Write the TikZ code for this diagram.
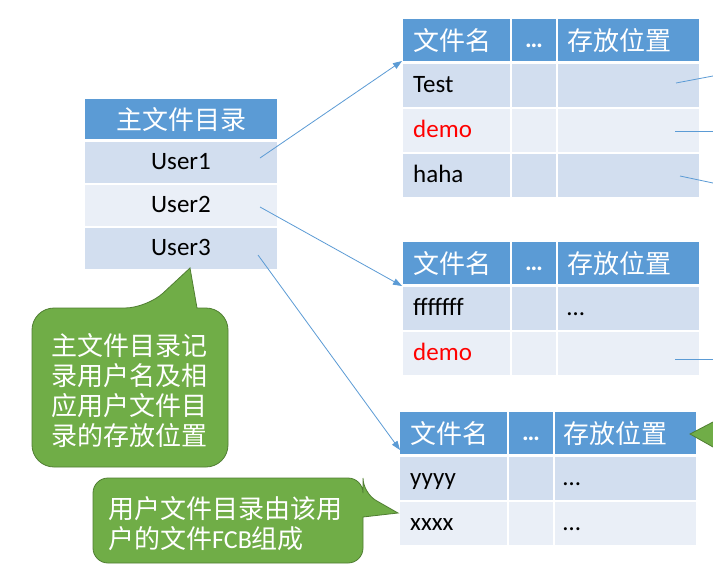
\documentclass[tikz,border=0pt]{standalone}
\usepackage{fontspec}
\setmainfont{Carlito}
\newfontfamily\cjk{Noto Sans CJK SC}
\usetikzlibrary{arrows.meta}

\definecolor{hdr}{HTML}{5B9BD5}
\definecolor{bandA}{HTML}{D2DEEF}
\definecolor{bandB}{HTML}{EAEFF7}
\definecolor{note}{HTML}{70AD47}
\definecolor{noteedge}{HTML}{507E32}
\definecolor{redtxt}{HTML}{FF0000}

% one row of a user file directory: name, left x, top y, fill style, height
\newcommand\fcbcells[5]{%
  \node[#4, minimum width=107pt, minimum height=#5pt] (#1a) at (#2,#3) {};
  \node[#4, minimum width=44pt,  minimum height=#5pt] (#1b) at (#2+109,#3) {};
  \node[#4, minimum width=141pt, minimum height=#5pt] (#1c) at (#2+155,#3) {};
}

\begin{document}
\begin{tikzpicture}[x=1pt,y=-1pt,
  cell/.style={rectangle, inner sep=0pt, outer sep=0pt, anchor=north west},
  hd/.style={cell, fill=hdr},
  ba/.style={cell, fill=bandA},
  bb/.style={cell, fill=bandB},
  lat/.style={font=\fontsize{25}{30}\selectfont, inner sep=0pt, text height=14pt, text depth=0pt},
  zh/.style={font=\fontsize{26}{30}\selectfont\cjk, inner sep=0pt, text height=20pt, text depth=0pt},
  notetext/.style={font=\fontsize{26}{30}\selectfont\cjk, text=white, inner sep=0pt, align=left},
  link/.style={draw=hdr, line width=0.8pt},
  arr/.style={link, -{Triangle[length=9pt,width=6.5pt]}},
  notefill/.style={fill=note, draw=noteedge, line width=0.8pt},
]
\useasboundingbox (0,0) rectangle (713,579);
\fill[white] (0,0) rectangle (713,579);

% master file directory
\node[hd, zh, text=white, minimum width=192pt, minimum height=40pt] (mh) at (85,99) {主文件目录};
\node[ba, lat, minimum width=192pt, minimum height=41pt] (u1) at (85,142) {User1};
\node[bb, lat, minimum width=192pt, minimum height=41pt] (u2) at (85,185) {User2};
\node[ba, lat, minimum width=192pt, minimum height=41pt] (u3) at (85,228) {User3};

% user file directory of User1
\fcbcells{t1h}{403}{19}{hd}{42}
\fcbcells{t1r1}{403}{64}{ba}{43}
\fcbcells{t1r2}{403}{109}{bb}{43}
\fcbcells{t1r3}{403}{154}{ba}{43}
\node[zh, text=white, anchor=west] (t1hn) at ([xshift=10pt]t1ha.west) {文件名};
\node[lat, text=white] (t1hd) at (t1hb) {\bfseries …};
\node[zh, text=white, anchor=west] (t1hp) at ([xshift=9pt]t1hc.west) {存放位置};
\node[lat, anchor=west] (t1n1) at ([xshift=10pt]t1r1a.west) {Test};
\node[lat, anchor=west, text=redtxt] (t1n2) at ([xshift=10pt]t1r2a.west) {demo};
\node[lat, anchor=west] (t1n3) at ([xshift=10pt]t1r3a.west) {haha};

% user file directory of User2
\fcbcells{t2h}{403}{242}{hd}{42}
\fcbcells{t2r1}{403}{287}{ba}{43}
\fcbcells{t2r2}{403}{332}{bb}{43}
\node[zh, text=white, anchor=west] (t2hn) at ([xshift=10pt]t2ha.west) {文件名};
\node[lat, text=white] (t2hd) at (t2hb) {\bfseries …};
\node[zh, text=white, anchor=west] (t2hp) at ([xshift=9pt]t2hc.west) {存放位置};
\node[lat, anchor=west] (t2n1) at ([xshift=10pt]t2r1a.west) {fffffff};
\node[lat, anchor=west] (t2p1) at ([xshift=9pt]t2r1c.west) {…};
\node[lat, anchor=west, text=redtxt] (t2n2) at ([xshift=10pt]t2r2a.west) {demo};

% user file directory of User3
\fcbcells{t3h}{400}{412}{hd}{42}
\fcbcells{t3r1}{400}{457}{ba}{43}
\fcbcells{t3r2}{400}{502}{bb}{43}
\node[zh, text=white, anchor=west] (t3hn) at ([xshift=10pt]t3ha.west) {文件名};
\node[lat, text=white] (t3hd) at (t3hb) {\bfseries …};
\node[zh, text=white, anchor=west] (t3hp) at ([xshift=8pt]t3hc.west) {存放位置};
\node[lat, anchor=west] (t3n1) at ([xshift=10pt]t3r1a.west) {yyyy};
\node[lat, anchor=west] (t3p1) at ([xshift=8pt]t3r1c.west) {…};
\node[lat, anchor=west] (t3n2) at ([xshift=10pt]t3r2a.west) {xxxx};
\node[lat, anchor=west] (t3p2) at ([xshift=8pt]t3r2c.west) {…};

% pointers from the master directory to the user directories
\draw[arr] ([xshift=-17pt,yshift=4.5pt]u1.east) -- ([xshift=-1pt]t1ha.south west);
\draw[arr] ([xshift=-17pt,yshift=-1.5pt]u2.east) -- ([xshift=-1pt,yshift=-2pt]t2ha.south west);
\draw[arr] ([xshift=-19pt,yshift=-6.5pt]u3.east) -- ([yshift=4pt]t3ha.south west);

% storage pointers leaving to the right
\coordinate (e1) at (713,76);
\coordinate (e2) at (713,131);
\coordinate (e3) at (713,183);
\coordinate (e4) at (713,359);
\draw[link] ([xshift=-23pt,yshift=2.5pt]t1r1c.east) -- (e1);
\draw[link] ([xshift=-24pt,yshift=-0.5pt]t1r2c.east) -- (e2);
\draw[link] ([xshift=-19pt,yshift=-0.5pt]t1r3c.east) -- (e3);
\draw[link] ([xshift=-24pt,yshift=-5.5pt]t2r2c.east) -- (e4);

% callout: master directory
\path[notefill] [rounded corners=22pt] (32,390) |- (147,308) [sharp corners] -- (190,268) -- (197,308)
  [rounded corners=22pt] -| (228,467) -| cycle;
\node[notetext] (n1) at (130,391) {主文件目录记\\录用户名及相\\应用户文件目\\录的存放位置};

% callout: user file directory
\path[notefill] [rounded corners=15pt] (93,520) |- (363,478) -- (363,493) [sharp corners] -- (398,513) -- (363,517)
  [rounded corners=15pt] |- (93,563) -- cycle;
\node[notetext, anchor=west] (n2) at (108,524) {用户文件目录由该用\\户的文件{\rmfamily FCB}组成};

% pointer of a callout at the right edge
\fill[note] (713,422) -- (690,434) -- (713,447) -- cycle;
\draw[noteedge, line width=0.8pt] (713,422) -- (690,434) -- (713,447);
\end{tikzpicture}
\end{document}
